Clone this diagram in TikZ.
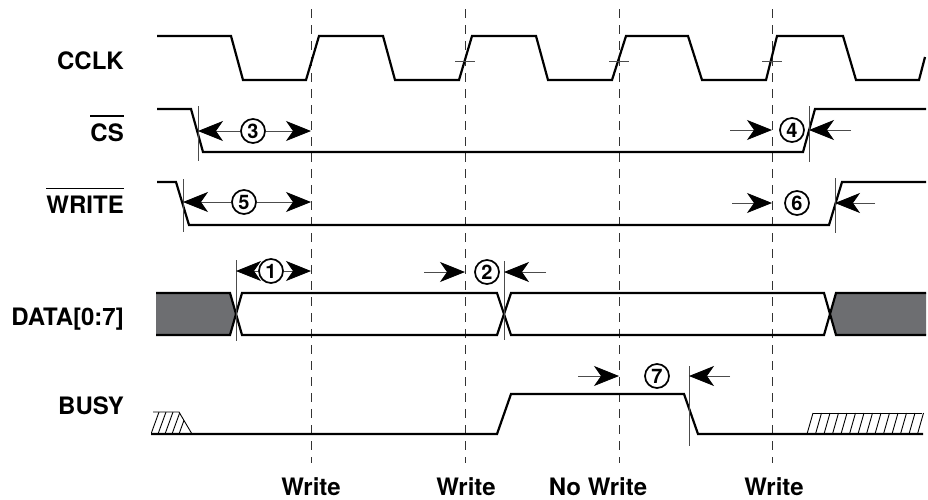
\documentclass[tikz,border=0pt]{standalone}
\usepackage{fontspec}
\setmainfont{TeX Gyre Heros}
\usetikzlibrary{arrows.meta,calc}
\definecolor{datagray}{RGB}{109,110,113}

\tikzset{
  sig/.style={line width=2.2pt},
  hatch/.style={line width=0.9pt},
  marker/.style={line width=0.9pt,draw=black!70},
  cycleline/.style={line width=0.9pt,draw=black!80,dash pattern=on 9pt off 7pt},
  dimtip/.tip={Stealth[length=25pt,width=20pt,inset=7pt,color=black]},
  dimarr/.style={line width=0.9pt,draw=black!70,-dimtip},
  num/.style={circle,draw,line width=1.7pt,fill=white,inner sep=0pt,
    minimum size=24pt,font=\fontsize{20}{20}\selectfont\bfseries},
  signame/.style={anchor=base east,inner sep=0pt,font=\fontsize{24}{28}\selectfont\bfseries},
  cyclename/.style={anchor=base,inner sep=0pt,font=\fontsize{24}{28}\selectfont\bfseries}
}

\begin{document}
\begin{tikzpicture}[x=1pt,y=-1pt]
\useasboundingbox (0,0) rectangle (928,499);

% write cycles
\coordinate (d1) at (311,9);
\coordinate (d2) at (465,9);
\coordinate (d3) at (619,9);
\coordinate (d4) at (772,9);
\foreach \d in {d1,d2,d3,d4}
  \draw[cycleline] (\d) -- ++(0,454);

% signal names
\node[signame] (lclk) at (124,69) {CCLK};
\node[signame] (lcs) at (124,141) {CS};
\node[signame] (lwr) at (124,213) {WRITE};
\node[signame] (ldata) at (124,325) {DATA[0:7]};
\node[signame] (lbusy) at (124,414) {BUSY};
\draw[line width=1.3pt] ($(lcs.north west)+(0,-7)$) -- ($(lcs.north east)+(0,-7)$);
\draw[line width=1.3pt] ($(lwr.north west)+(0,-7)$) -- ($(lwr.north east)+(0,-7)$);

% CCLK
\draw[sig] (157,36) -- (231,36) -- (243,80) -- (306,80) -- (319,36)
  -- (383,36) -- (395,80) -- (459,80) -- (472,36)
  -- (536,36) -- (548,80) -- (612,80) -- (626,36)
  -- (688,36) -- (702,80) -- (766,80) -- (777,36)
  -- (843,36) -- (856,80) -- (919,80) -- (925,57);
\foreach \d in {d2,d3,d4}
  \draw[marker] ($(\d)+(-10,52)$) -- ++(20,0);

% CS and WRITE
\draw[sig] (157,109) -- (191,109) -- (203,152) -- (803,152) -- (815,109) -- (926,109);
\draw[sig] (157,182) -- (176,182) -- (189,225) -- (829,225) -- (842,182) -- (926,182);

% DATA
\fill[datagray] (156,293) -- (230,293) -- (236,314) -- (230,335) -- (156,335) -- cycle;
\draw[sig] (156,293) -- (230,293) -- (236,314) -- (230,335) -- (156,335);
\draw[sig] (236,314) -- (242,293) -- (497,293) -- (504,314) -- (497,335) -- (242,335) -- cycle;
\draw[sig] (504,314) -- (511,293) -- (824,293) -- (830,314) -- (824,335) -- (511,335) -- cycle;
\fill[datagray] (926,293) -- (836,293) -- (830,314) -- (836,335) -- (926,335) -- cycle;
\draw[sig] (926,293) -- (836,293) -- (830,314) -- (836,335) -- (926,335);

% BUSY
\draw[sig] (151,434) -- (497,434) -- (511,394) -- (684,394) -- (698,434) -- (923,434);
\begin{scope}
  \clip (151,434) -- (153,412) -- (179,412) -- (192,434) -- cycle;
  \foreach \k in {0,...,4}
    \draw[hatch] ({151+7*\k},434) -- ({159+7*\k},412);
\end{scope}
\draw[hatch] (153,412) -- (179,412) -- (192,434);
\draw[hatch] (813,413) -- (922,413);
\foreach \k in {0,...,13}
  \draw[hatch] ({807+8.5*\k},434) -- ({813+8.5*\k},413);

% timing markers
\coordinate (mcsa) at (198,106);
\coordinate (mcsb) at (809,106);
\coordinate (mwra) at (183,179);
\coordinate (mwrb) at (835,178);
\coordinate (mda) at (236,260);
\coordinate (mdb) at (504,261);
\coordinate (mbu) at (689,366);
\draw[marker] (mcsa) -- ++(0,55);
\draw[marker] (mcsb) -- ++(0,56);
\draw[marker] (mwra) -- ++(0,53);
\draw[marker] (mwrb) -- ++(0,55);
\draw[marker] (mda) -- ++(0,81);
\draw[marker] (mdb) -- ++(0,79);
\draw[marker] (mbu) -- ++(0,80);

% timing parameters
\node[num] (n1) at (271,271) {1};
\node[num] (n2) at (487,272) {2};
\node[num] (n3) at (253,131) {3};
\node[num] (n4) at (792,130) {4};
\node[num] (n5) at (244,202) {5};
\node[num] (n6) at (797,203) {6};
\node[num] (n7) at (657,376) {7};

\draw[dimarr] (n3) -- (mcsa |- n3);
\draw[dimarr] (n3) -- (d1 |- n3);
\draw[dimarr] (n5) -- (mwra |- n5);
\draw[dimarr] (n5) -- (d1 |- n5);
\draw[dimarr] (n1) -- (mda |- n1);
\draw[dimarr] (n1) -- (d1 |- n1);
\draw[dimarr] ($(d2 |- n2)+(-41,0)$) -- (d2 |- n2);
\draw[dimarr] ($(mdb |- n2)+(42,0)$) -- (mdb |- n2);
\draw[dimarr] ($(d4 |- n4)+(-42,0)$) -- (d4 |- n4);
\draw[dimarr] ($(mcsb |- n4)+(42,0)$) -- (mcsb |- n4);
\draw[dimarr] ($(d4 |- n6)+(-40,0)$) -- (d4 |- n6);
\draw[dimarr] ($(mwrb |- n6)+(40,0)$) -- (mwrb |- n6);
\draw[dimarr] ($(d3 |- n7)+(-41,0)$) -- (d3 |- n7);
\draw[dimarr] ($(mbu |- n7)+(41,0)$) -- (mbu |- n7);

% cycle names
\node[cyclename] (w1) at (311,495) {Write};
\node[cyclename] (w2) at (466,495) {Write};
\node[cyclename] (w3) at (598,495) {No Write};
\node[cyclename] (w4) at (774,495) {Write};
\end{tikzpicture}
\end{document}
